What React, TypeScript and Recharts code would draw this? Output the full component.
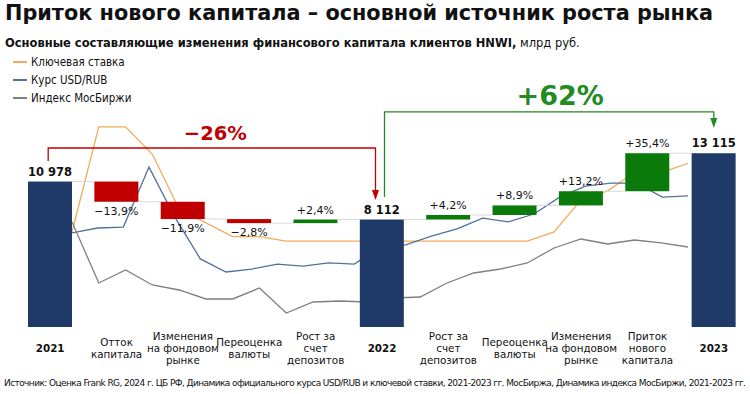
import { Bar, ComposedChart, Line, ReferenceLine, XAxis, YAxis } from "recharts";

// waterfall: 2021 -> 2022 -> 2023, млрд руб.
const categories = ["y2021", "outflow", "market1", "fx1", "deposits1", "y2022", "deposits2", "fx2", "market2", "inflow", "y2023"];
const tickLabels = [
  ["2021"],
  ["Отток", "капитала"],
  ["Изменения", "на фондовом", "рынке"],
  ["Переоценка", "валюты"],
  ["Рост за", "счет", "депозитов"],
  ["2022"],
  ["Рост за", "счет", "депозитов"],
  ["Переоценка", "валюты"],
  ["Изменения", "на фондовом", "рынке"],
  ["Приток", "нового", "капитала"],
  ["2023"],
];
const amounts = [10978, -1526, -1306, -307, 273, 8112, 341, 722, 1071, 2869, 13115];
const isTotal = [true, false, false, false, false, true, false, false, false, false, true];
const barLabels = ["10 978", "−13,9%", "−11,9%", "−2,8%", "+2,4%", "8 112", "+4,2%", "+8,9%", "+13,2%", "+35,4%", "13 115"];

// monthly background lines
const keyRate = [8.5, 20, 20, 17, 11, 9.5, 8, 8, 7.5, 7.5, 7.5, 7.5, 7.5, 7.5, 7.5, 7.5, 7.5, 7.5, 8.5, 12, 13, 15, 15, 16];
const moex = [3787, 2470, 2751, 2427, 2319, 2125, 2125, 2362, 1822, 2060, 2081, 2060, 2146, 2168, 2470, 2686, 2772, 2902, 3226, 3420, 3312, 3398, 3334, 3247];
const usdRub = [73.7, 75.9, 76.3, 102.9, 80.8, 62.2, 56.4, 57.7, 59.9, 59.0, 60.4, 59.9, 67.5, 68.4, 72.3, 75.5, 80.3, 78.6, 82.1, 89.6, 94.5, 95.8, 95.8, 89.6, 90.1];

// bracket levels (млрд руб.)
const drop = { start: 12530, top: 13510, end: 9590 };
const rise = { start: 9810, top: 16230, end: 15020 };

const NAVY = "#1f3a68";
const RED = "#c00000";
const GREEN = "#0a7a0a";
const ORANGE = "#f2ab5e";
const BLUE = "#52709e";
const GREY = "#7f7f7f";
const FONT = "'DejaVu Sans', Verdana, sans-serif";
const SQUEEZE = 0.86; // narrow look for legend text
const TICK_SQUEEZE = 0.94;

const W = 750;
const H = 394;
const M = { top: 62, right: 3, bottom: 0, left: 17 };
const BAR_W = 44;
const BAND = (W - M.left - M.right) / categories.length;

let running = 0;
const rows = categories.map((id, i) => {
  let low: number;
  let high: number;
  let kind: string;
  if (isTotal[i]) {
    low = 0;
    high = amounts[i];
    running = amounts[i];
    kind = "total";
  } else {
    const start = running;
    running += amounts[i];
    low = Math.min(start, running);
    high = Math.max(start, running);
    kind = amounts[i] < 0 ? "down" : "up";
  }
  return { id, range: [low, high], kind, label: barLabels[i] };
});

const rateData = keyRate.map((v, i) => ({ t: i, rate: v, moex: moex[i] }));
const usdData = usdRub.map((v, i) => ({ t: i, usd: v }));

function WaterfallBar(props: any) {
  const { x, y, width, height, index } = props;
  const row = rows[index];
  const fill = row.kind === "total" ? NAVY : row.kind === "down" ? RED : GREEN;
  const endY = row.kind === "down" ? y + height : y;
  const labelY = row.kind === "down" ? y + height + 13 : y - 6;
  return (
    <g>
      {index < rows.length - 1 && (
        <line x1={x + width} x2={x + width + BAND - BAR_W} y1={endY} y2={endY} stroke="#d9d9d9" strokeWidth={1} />
      )}
      <rect x={x} y={y} width={width} height={height} fill={fill} />
      <text
        x={x + width / 2}
        y={labelY}
        textAnchor="middle"
        fontFamily={FONT}
        fontSize={row.kind === "total" ? 11.5 : 11}
        fontWeight={row.kind === "total" ? 700 : 400}
        fill="#111"
      >
        {row.label}
      </text>
    </g>
  );
}

function bracket(lv: { start: number; top: number; end: number }, dxL: number, dxR: number, color: string, text: string, size: number, textDx: number, textGap: number) {
  return (p: any) => {
    const { x1, y1, x2, y2 } = p;
    const k = (y2 - y1) / (lv.end - lv.start);
    const topY = y1 + (lv.top - lv.start) * k;
    const xa = x1 + dxL;
    const xb = x2 + dxR;
    return (
      <g>
        <path d={`M${xa},${y1}V${topY}H${xb}V${y2 - 9}`} fill="none" stroke={color} strokeWidth={1.3} />
        <path d={`M${xb - 3.5},${y2 - 10}L${xb + 3.5},${y2 - 10}L${xb},${y2}Z`} fill={color} />
        <text x={(xa + xb) / 2 + textDx} y={topY - textGap} textAnchor="middle" fontFamily={FONT} fontWeight={700} fontSize={size} fill={color}>
          {text}
        </text>
      </g>
    );
  };
}

function CategoryTick(props: any) {
  const { x, y, payload } = props;
  const i = categories.indexOf(payload.value);
  const lines = tickLabels[i] || [];
  const bold = isTotal[i];
  return (
    <g transform={`translate(${x},0) scale(${TICK_SQUEEZE},1)`}>
      <text textAnchor="middle" fontFamily={FONT} fontSize={11} fontWeight={bold ? 700 : 400} fill="#111">
        {lines.map((s, k) => (
          <tspan key={k} x={0} y={y + 25 - (lines.length - 1) * 6 + k * 12}>
            {s}
          </tspan>
        ))}
      </text>
    </g>
  );
}

const legend = [
  { name: "Ключевая ставка", color: ORANGE },
  { name: "Курс USD/RUB", color: BLUE },
  { name: "Индекс МосБиржи", color: GREY },
];

export default function App() {
  return (
    <div style={{ position: "absolute", left: 0, top: 0, width: W, height: H, background: "#fff", color: "#111" }}>
      <div style={{ position: "absolute", left: 5, top: 3, fontFamily: FONT, fontWeight: 700, fontSize: 20.8, lineHeight: "21px", whiteSpace: "nowrap" }}>
        Приток нового капитала – основной источник роста рынка
      </div>
      <div style={{ position: "absolute", left: 5, top: 37, fontFamily: FONT, fontSize: 11.5, lineHeight: "12px", whiteSpace: "nowrap" }}>
        <b>Основные составляющие изменения финансового капитала клиентов HNWI,</b> млрд руб.
      </div>
      {legend.map((l, i) => (
        <div key={l.name} style={{ position: "absolute", left: 13, top: 53 + i * 18, height: 18, display: "flex", alignItems: "center", whiteSpace: "nowrap" }}>
          <span style={{ display: "inline-block", width: 14, height: 1.5, background: l.color, marginRight: 4 }} />
          <span style={{ display: "inline-block", fontFamily: FONT, fontSize: 12, transform: `scaleX(${SQUEEZE})`, transformOrigin: "left center" }}>
            {l.name}
          </span>
        </div>
      ))}
      <div style={{ position: "absolute", left: 4, top: 377, fontFamily: FONT, fontSize: 9, letterSpacing: -0.58, lineHeight: "12px", whiteSpace: "nowrap" }}>
        Источник: Оценка Frank RG, 2024 г. ЦБ РФ, Динамика официального курса USD/RUB и ключевой ставки, 2021-2023 гг. МосБиржа, Динамика индекса МосБиржи, 2021-2023 гг.
      </div>
      <div style={{ position: "absolute", left: 0, top: 0 }}>
        <ComposedChart width={W} height={H} data={rows} margin={M} barSize={BAR_W}>
          <XAxis
            xAxisId="cat"
            dataKey="id"
            type="category"
            height={67}
            interval={0}
            tickLine={false}
            axisLine={false}
            tickSize={0}
            tickMargin={0}
            tick={<CategoryTick />}
          />
          <XAxis xAxisId="m24" type="number" dataKey="t" domain={[0, 23]} hide padding={{ left: 55, right: 59 }} allowDataOverflow />
          <XAxis xAxisId="m25" type="number" dataKey="t" domain={[0, 24]} hide padding={{ left: 55, right: 59 }} allowDataOverflow />
          <YAxis yAxisId="val" domain={[0, 20000]} hide allowDataOverflow />
          <YAxis yAxisId="rate" domain={[-1.9, 27.1]} hide allowDataOverflow />
          <YAxis yAxisId="usd" domain={[32, 149.5]} hide allowDataOverflow />
          <YAxis yAxisId="moex" domain={[1520, 7241]} hide allowDataOverflow />
          <Line xAxisId="m24" yAxisId="rate" data={rateData} dataKey="rate" type="linear" stroke={ORANGE} strokeWidth={1.3} dot={false} isAnimationActive={false} zIndex={150} />
          <Line xAxisId="m25" yAxisId="usd" data={usdData} dataKey="usd" type="linear" stroke={BLUE} strokeWidth={1.3} dot={false} isAnimationActive={false} zIndex={150} />
          <Line xAxisId="m24" yAxisId="moex" data={rateData} dataKey="moex" type="linear" stroke={GREY} strokeWidth={1.3} dot={false} isAnimationActive={false} zIndex={150} />
          <Bar xAxisId="cat" yAxisId="val" dataKey="range" shape={WaterfallBar} isAnimationActive={false} />
          <ReferenceLine
            xAxisId="cat"
            yAxisId="val"
            segment={[{ x: "y2021", y: drop.start }, { x: "y2022", y: drop.end }]}
            shape={bracket(drop, -2, -6.5, RED, "−26%", 19.5, 3.5, 8)}
          />
          <ReferenceLine
            xAxisId="cat"
            yAxisId="val"
            segment={[{ x: "y2022", y: rise.start }, { x: "y2023", y: rise.end }]}
            shape={bracket(rise, 2.5, 0, "#228b22", "+62%", 27, 11, 7)}
          />
        </ComposedChart>
      </div>
    </div>
  );
}
